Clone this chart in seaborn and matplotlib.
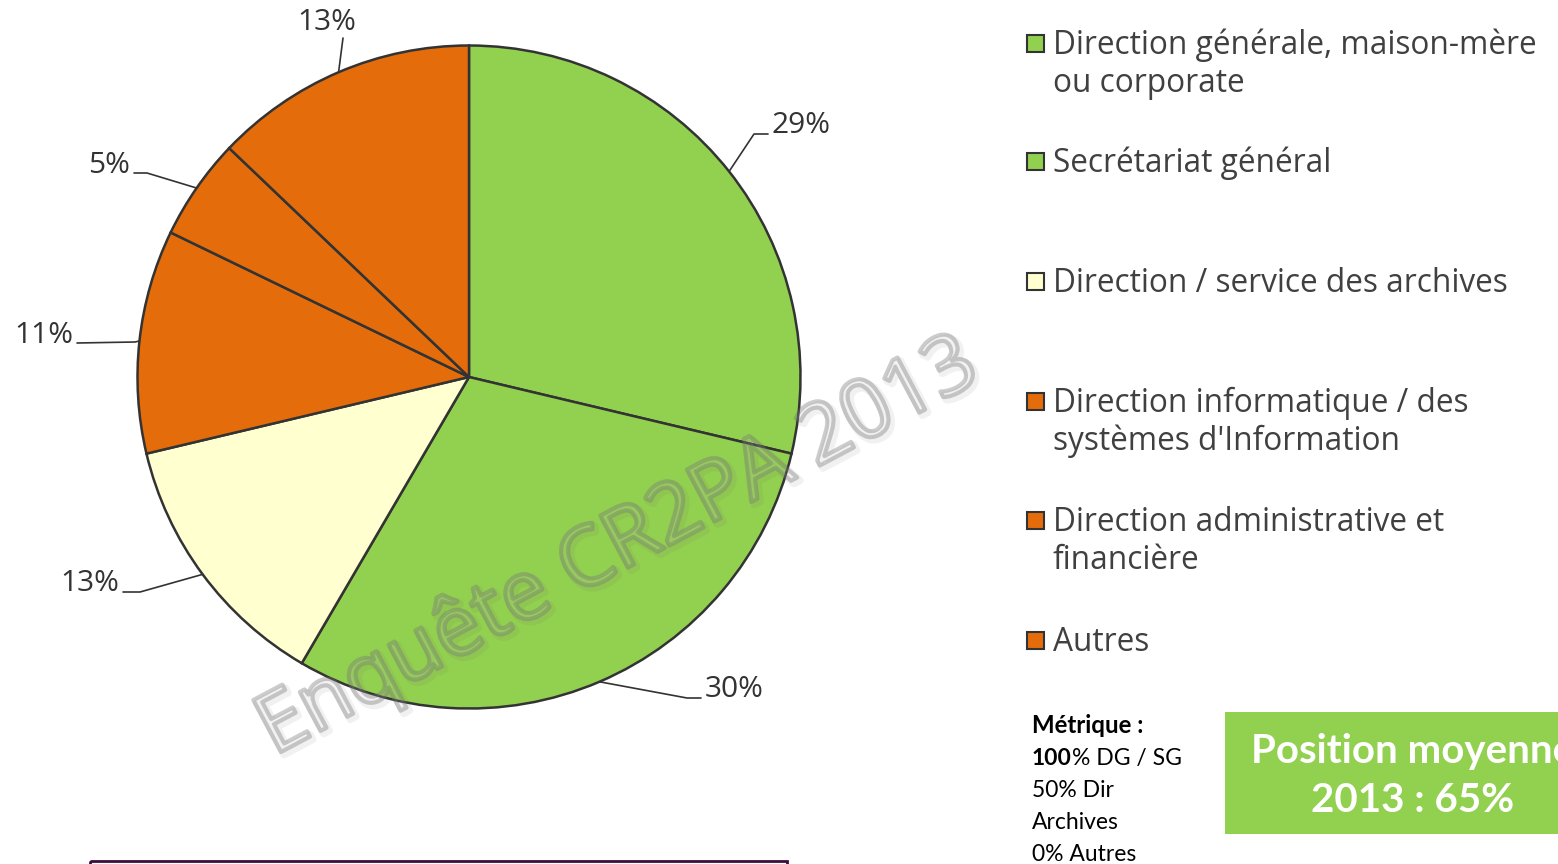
import numpy as np
import pandas as pd
import seaborn as sns
import matplotlib
matplotlib.use("Agg")
import matplotlib.pyplot as plt
from matplotlib.patches import Rectangle, PathPatch
from matplotlib.lines import Line2D
from matplotlib.textpath import TextPath
from matplotlib.font_manager import FontProperties
import matplotlib.transforms as mtransforms

# ---------------- data ----------------
categories = [
    "Direction générale, maison-mère\nou corporate",
    "Secrétariat général",
    "Direction / service des archives",
    "Direction informatique / des\nsystèmes d'Information",
    "Direction administrative et\nfinancière",
    "Autres",
]
values = [29, 30, 13, 11, 5, 13]
value_labels = ["29%", "30%", "13%", "11%", "5%", "13%"]
colors = ["#92D050", "#92D050", "#FFFFD0", "#E46C0A", "#E46C0A", "#E46C0A"]

watermark = "Enquête CR2PA 2013"
metric_title = "Métrique :"
metric_lines = [("100", "% DG / SG"), ("", "50% Dir"), ("", "Archives"), ("", "0% Autres")]
box_lines = ["Position moyenne", "2013 : 65%"]

df = pd.DataFrame({"categorie": categories, "valeur": values, "couleur": colors})

# ---------------- style ----------------
sns.set_theme(style="white")
plt.rcParams["font.family"] = ["Open Sans", "DejaVu Sans"]

W, H = 1558, 864
fig = plt.figure(figsize=(W / 100, H / 100), dpi=100)
PX = mtransforms.Affine2D().scale(1 / W, -1 / H).translate(0, 1) + fig.transFigure

CX, CY, R = 469, 377, 331.5
ax = fig.add_axes([0, 0, 1, 1])
wedges, _ = ax.pie(
    df["valeur"], colors=df["couleur"], startangle=90, counterclock=False,
    radius=1, wedgeprops=dict(edgecolor="#333333", linewidth=1.8),
)
ax.set_xlim(-CX / R, (W - CX) / R)
ax.set_ylim(-(H - CY) / R, CY / R)
ax.axis("off")

# label layout (pixel positions): elbow, end, text anchor, alignment
label_layout = [
    ((754, 134), (768, 134), (772, 133), "left"),
    ((687, 698), (701, 698), (705, 697), "left"),
    ((140, 592), (123, 592), (119, 591), "right"),
    ((135, 342), (77, 343), (73, 343), "right"),
    ((147, 173), (134, 173), (130, 173), "right"),
    ((343, 38), (343, 38), (327, 30), "center"),
]
for w, lab, (el, en, tp, ha) in zip(wedges, value_labels, label_layout):
    th = np.deg2rad((w.theta1 + w.theta2) / 2)
    sx, sy = CX + R * np.cos(th), CY - R * np.sin(th)
    fig.add_artist(Line2D([sx, el[0], en[0]], [sy, el[1], en[1]], transform=PX,
                          color="#333333", lw=1.2))
    fig.text(tp[0], tp[1], lab, transform=PX, ha=ha, va="baseline",
             fontsize=21.5, color="#333333")

# ---------------- watermark ----------------
wm_font = FontProperties(family=["Open Sans", "DejaVu Sans"])
tpath = TextPath((0, 0), watermark, size=100, prop=wm_font)
ext = tpath.get_extents()
L = 790
sc = L / ext.width
ang = 28
x0, y0 = 281, 752


def wm_transform(dx, dy):
    return (mtransforms.Affine2D().translate(-ext.x0, 0).scale(sc).rotate_deg(ang)
            .translate(x0 + dx, H - y0 + dy)
            + mtransforms.Affine2D().scale(1 / W, 1 / H) + fig.transFigure)


fig.add_artist(PathPatch(tpath, transform=wm_transform(3, -3), facecolor="none",
                         edgecolor=(0.4, 0.4, 0.4, 0.09), lw=5, joinstyle="round"))
fig.add_artist(PathPatch(tpath, transform=wm_transform(0, 0), facecolor=(1, 1, 1, 0.08),
                         edgecolor=(0.45, 0.45, 0.45, 0.36), lw=3.0, joinstyle="round"))

# ---------------- legend (manual) ----------------
leg_base = [54, 172, 292, 412, 531, 651]
for cat, col, yb in zip(categories, colors, leg_base):
    fig.add_artist(Rectangle((1027, yb - 19), 17, 17, transform=PX,
                             facecolor=col, edgecolor="#333333", lw=1.5))
    for k, line in enumerate(cat.split("\n")):
        fig.text(1053, yb + 38 * k, line, transform=PX, ha="left", va="baseline",
                 fontsize=22.8, color="#404040")

# ---------------- metric text ----------------
cal = ["Lato", "DejaVu Sans"]
fig.text(1032, 733, metric_title, transform=PX, ha="left", va="baseline",
         fontsize=17.3, fontweight="bold", family=cal, color="black")
renderer = fig.canvas.get_renderer()
for i, (b, rest) in enumerate(metric_lines):
    yb = 765 + 32 * i
    x = 1032
    if b:
        t = fig.text(x, yb, b, transform=PX, ha="left", va="baseline",
                     fontsize=16.5, fontweight="bold", family=cal, color="black")
        x += t.get_window_extent(renderer).width * W / fig.bbox.width
    fig.text(x, yb, rest, transform=PX, ha="left", va="baseline",
             fontsize=16.5, family=cal, color="black")

# ---------------- green box ----------------
fig.add_artist(Rectangle((1225, 712), 376, 122, transform=PX,
                         facecolor="#92D050", edgecolor="none"))
for k, line in enumerate(box_lines):
    fig.text(1413, 763 + 49 * k, line, transform=PX, ha="center", va="baseline",
             fontsize=29, fontweight="bold", family=cal, color="white")

# purple frame (bottom, cut)
fig.add_artist(Rectangle((90, 861), 697, 30, transform=PX,
                         facecolor="none", edgecolor="#3C0D3C", lw=2))

fig.savefig("out.png", dpi=100, facecolor="white")
